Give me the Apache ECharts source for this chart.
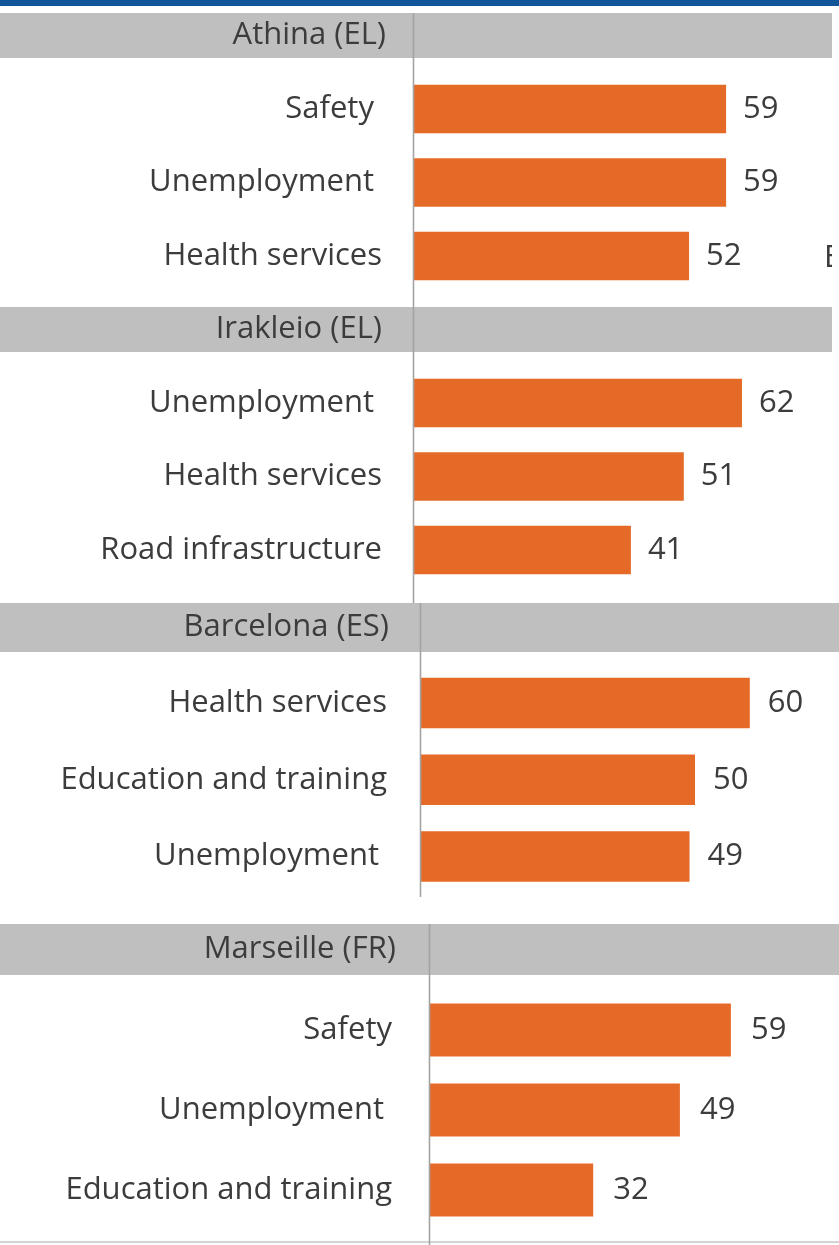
<!DOCTYPE html>
<html>
<head>
<meta charset="utf-8">
<script src="https://cdn.jsdelivr.net/npm/echarts@6/dist/echarts.min.js"></script>
<style>
html,body{margin:0;padding:0;background:#fff;}
#chart{width:839px;height:1245px;}
</style>
</head>
<body>
<div id="chart"></div>
<script>
// ---- data ----
const cities = ['Athina (EL)', 'Irakleio (EL)', 'Barcelona (ES)', 'Marseille (FR)'];
const athinaCats = ['Safety', 'Unemployment', 'Health services'];
const athinaVals = [59, 59, 52];
const irakleioCats = ['Unemployment', 'Health services', 'Road infrastructure'];
const irakleioVals = [62, 51, 41];
const barcelonaCats = ['Health services', 'Education and training', 'Unemployment'];
const barcelonaVals = [60, 50, 49];
const marseilleCats = ['Safety', 'Unemployment', 'Education and training'];
const marseilleVals = [59, 49, 32];

const catsList = [athinaCats, irakleioCats, barcelonaCats, marseilleCats];
const valsList = [athinaVals, irakleioVals, barcelonaVals, marseilleVals];

// ---- layout (pixels) ----
const layout = [
  {axisX: 414, scale: 5.29, bandTop: 13,  bandH: 45, bandW: 832, gridTop: 72.25, gridH: 220.5, lineTop: 13,  lineBot: 307, margin: 32, cityRight: 386, labDist: 17},
  {axisX: 414, scale: 5.29, bandTop: 307, bandH: 45, bandW: 832, gridTop: 366.25, gridH: 220.5, lineTop: 307, lineBot: 603, margin: 32, cityRight: 382, labDist: 17},
  {axisX: 421, scale: 5.48, bandTop: 603, bandH: 49, bandW: 839, gridTop: 664.6, gridH: 230.25, lineTop: 603, lineBot: 897, margin: 34, cityRight: 389, labDist: 18},
  {axisX: 430, scale: 5.10, bandTop: 924, bandH: 51, bandW: 839, gridTop: 990, gridH: 240, lineTop: 924, lineBot: 1245, margin: 38, cityRight: 396, labDist: 20}
];
const XMAX = 70;
const FONT = '"Open Sans", "Noto Sans", sans-serif';
const FS = 31;
const TXT = '#3c3c3c';
const BAR = '#e56a27';
const BAND = '#bfbfbf';
const AXIS = '#a3a3a3';

const grids = [], xAxes = [], yAxes = [], series = [], graphics = [];

// top blue strip
graphics.push({type: 'rect', shape: {x: 0, y: 0, width: 839, height: 6}, style: {fill: '#10549a'}, z: 1});

layout.forEach((L, i) => {
  graphics.push({type: 'rect', shape: {x: 0, y: L.bandTop, width: L.bandW, height: L.bandH}, style: {fill: BAND}, z: 1});
  graphics.push({type: 'text', x: L.cityRight, y: L.bandTop + L.bandH / 2,
    style: {text: cities[i], font: FS + 'px ' + FONT, fill: TXT, textAlign: 'right', textVerticalAlign: 'middle'}, z: 3});
  graphics.push({type: 'line', shape: {x1: L.axisX - 0.5, y1: L.lineTop, x2: L.axisX - 0.5, y2: L.lineBot},
    style: {stroke: AXIS, lineWidth: 1.6}, z: 4});

  grids.push({left: L.axisX, top: L.gridTop, width: XMAX * L.scale, height: L.gridH, containLabel: false});
  xAxes.push({type: 'value', gridIndex: i, min: 0, max: XMAX, show: false, splitLine: {show: false}});
  yAxes.push({
    type: 'category', gridIndex: i, inverse: true, data: catsList[i],
    axisLine: {show: false}, axisTick: {show: false},
    axisLabel: {
      fontFamily: FONT, fontSize: FS, color: TXT, margin: L.margin,
      formatter: v => (v === 'Unemployment' || (v === 'Safety' && i === 0)) ? v + ' ' : v
    }
  });
  series.push({
    type: 'bar', xAxisIndex: i, yAxisIndex: i, data: valsList[i],
    barCategoryGap: '34%', itemStyle: {color: BAR}, silent: true, animation: false,
    label: {show: true, position: 'right', distance: L.labDist, fontFamily: FONT, fontSize: FS, color: TXT}
  });
});

// cropped letter fragment at right edge of first panel, and the panel image's right margin
graphics.push({type: 'text', x: 824, y: 258, style: {text: 'E', font: FS + 'px ' + FONT, fill: TXT, textAlign: 'left', textVerticalAlign: 'middle'}, z: 3});
graphics.push({type: 'rect', shape: {x: 832, y: 6, width: 7, height: 597}, style: {fill: '#ffffff'}, z: 5});
// bottom rule
graphics.push({type: 'rect', shape: {x: 0, y: 1241, width: 839, height: 2}, style: {fill: '#d4d4d4'}, z: 2});

const chart = echarts.init(document.getElementById('chart'), null, {renderer: 'canvas'});
chart.setOption({
  animation: false,
  backgroundColor: '#ffffff',
  grid: grids, xAxis: xAxes, yAxis: yAxes, series: series,
  graphic: graphics
});
</script>
</body>
</html>
